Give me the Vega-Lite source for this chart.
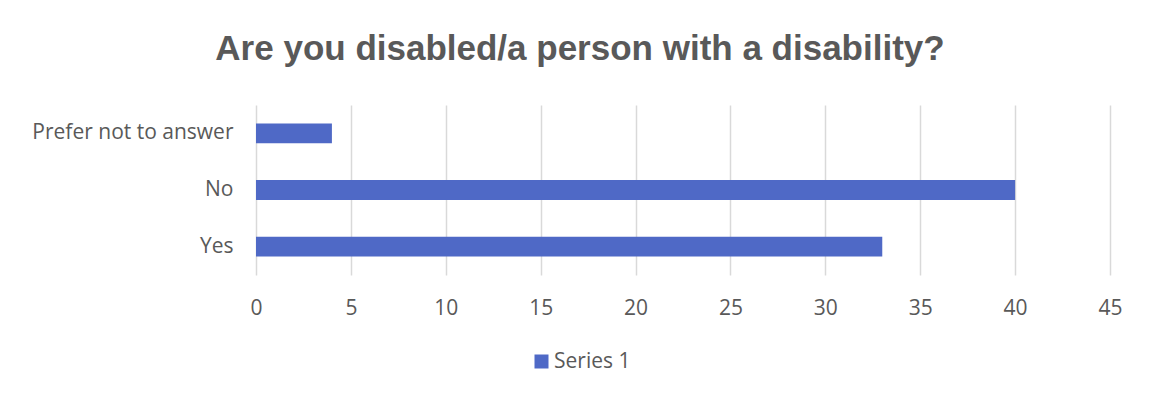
{
  "$schema": "https://vega.github.io/schema/vega-lite/v6.json",
  "width": 854,
  "height": 170,
  "autosize": "none",
  "padding": {"left": 256, "top": 105, "right": 40, "bottom": 122},
  "background": "white",
  "title": {
    "text": "Are you disabled/a person with a disability?",
    "anchor": "middle",
    "dx": -103,
    "offset": 38,
    "font": "Liberation Sans",
    "fontSize": 35,
    "fontWeight": "bold",
    "color": "#595959"
  },
  "data": {
    "values": [
      {"answer": "Prefer not to answer", "count": 4, "series": "Series 1"},
      {"answer": "No", "count": 40, "series": "Series 1"},
      {"answer": "Yes", "count": 33, "series": "Series 1"}
    ]
  },
  "mark": {"type": "bar"},
  "encoding": {
    "y": {
      "field": "answer",
      "type": "nominal",
      "sort": ["Prefer not to answer", "No", "Yes"],
      "scale": {"paddingInner": 0.65, "paddingOuter": 0.325},
      "axis": {
        "title": null,
        "ticks": false,
        "domain": false,
        "labelFont": "Open Sans",
        "labelFontSize": 21,
        "labelColor": "#595959",
        "labelPadding": 23,
        "labelLimit": 400
      }
    },
    "x": {
      "field": "count",
      "type": "quantitative",
      "scale": {"domain": [0, 45], "nice": false},
      "axis": {
        "title": null,
        "values": [0, 5, 10, 15, 20, 25, 30, 35, 40, 45],
        "ticks": false,
        "domain": false,
        "grid": true,
        "gridColor": "#d9d9d9",
        "gridWidth": 1.5,
        "labelFlush": false,
        "labelFont": "Open Sans",
        "labelFontSize": 21,
        "labelColor": "#595959",
        "labelPadding": 22
      }
    },
    "color": {
      "field": "series",
      "type": "nominal",
      "scale": {"range": ["#4F69C6"]},
      "legend": {
        "title": null,
        "orient": "none",
        "legendX": 275,
        "legendY": 246,
        "symbolType": "square",
        "symbolSize": 196,
        "symbolStrokeWidth": 0,
        "labelFont": "Open Sans",
        "labelFontSize": 21,
        "labelColor": "#595959",
        "labelOffset": 2
      }
    }
  },
  "config": {"view": {"stroke": null}}
}
